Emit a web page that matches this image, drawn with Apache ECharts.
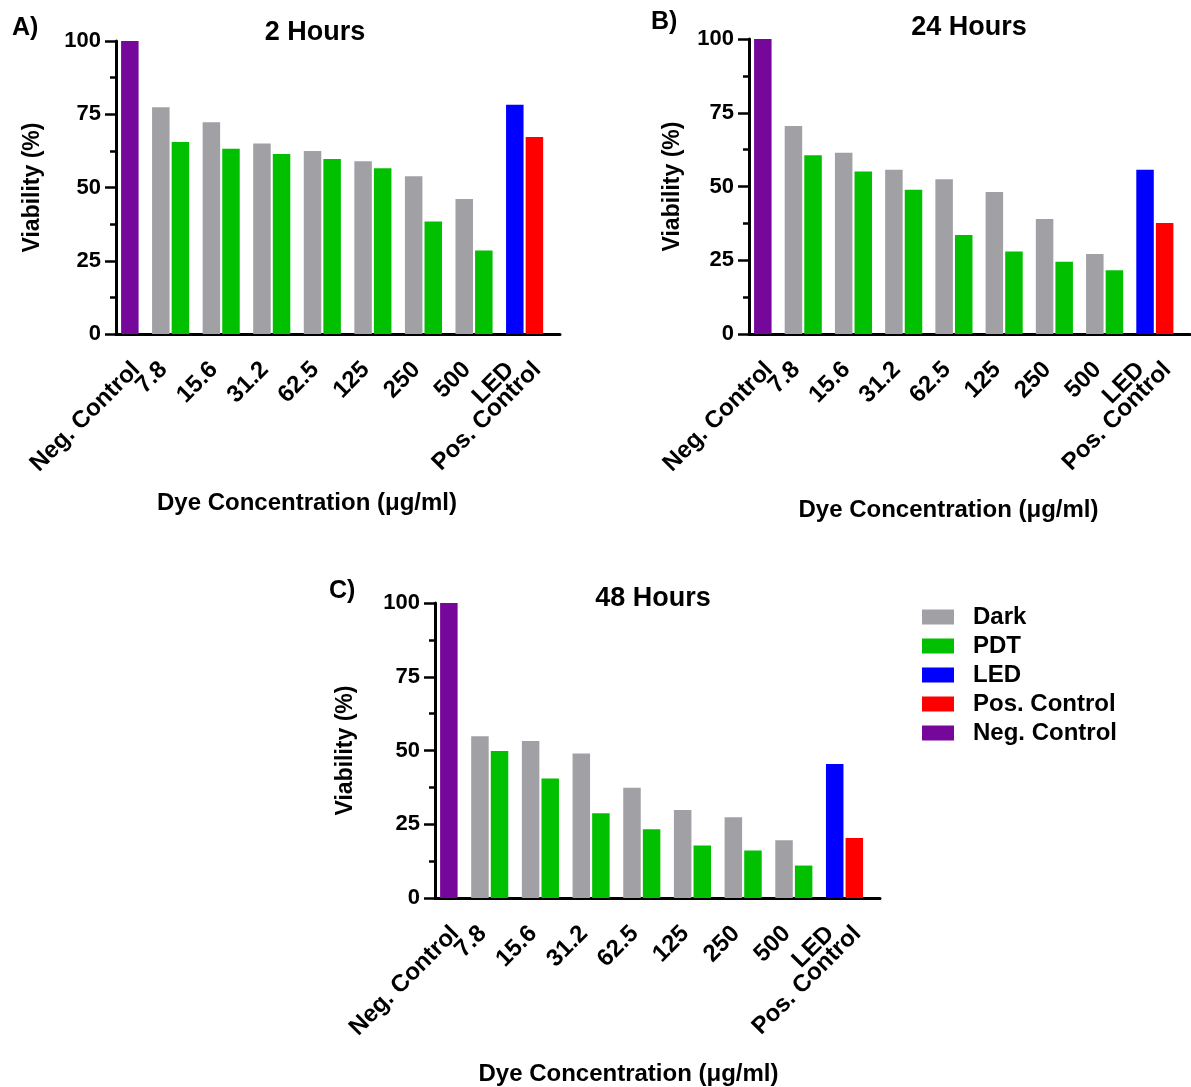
<!DOCTYPE html>
<html>
<head>
<meta charset="utf-8">
<title>Viability</title>
<script src="https://cdn.jsdelivr.net/npm/echarts@6/dist/echarts.min.js"></script>
<style>
  html, body { margin: 0; padding: 0; background: #fff; }
  #chart { width: 1191px; height: 1087px; }
</style>
</head>
<body>
<div id="chart"></div>
<script>
// x labels: single bars first/last, pairs in the middle
const xLabels = ['Neg. Control', '7.8', '15.6', '31.2', '62.5', '125', '250', '500', 'LED', 'Pos. Control'];
const panelTitles = ['2 Hours', '24 Hours', '48 Hours'];
const panelLetters = ['A)', 'B)', 'C)'];

// Dark / PDT values, one row per time point (7.8 .. 500 ug/ml)
const dark = [
  [77.4, 72.3, 65.0, 62.5, 59.0, 53.8, 46.1],
  [70.5, 61.4, 55.7, 52.5, 48.1, 39.0, 27.1],
  [54.8, 53.2, 49.0, 37.4, 29.8, 27.4, 19.6]
];
const pdt = [
  [65.5, 63.2, 61.4, 59.7, 56.6, 38.4, 28.5],
  [60.6, 55.1, 48.9, 33.6, 28.0, 24.5, 21.6],
  [49.8, 40.5, 28.7, 23.3, 17.8, 16.1, 11.0]
];
const led = [78.2, 55.7, 45.4];
const posControl = [67.2, 37.6, 20.3];
const negControl = [100, 100, 100];

const font = "'Liberation Sans', Arial, sans-serif";
const colors = {
  dark: '#a1a1a5',
  pdt: '#00c000',
  led: '#0000ff',
  pos: '#ff0000',
  neg: '#75089a'
};

// panel boxes (plot area) in px
const panels = [
  { left: 116, top: 41, width: 444, height: 293, yGap: 72, xShift: 62, xGap: 157 },
  { left: 749, top: 39, width: 441, height: 295, yGap: 65, xShift: 42, xGap: 164 },
  { left: 435, top: 603, width: 445, height: 295, yGap: 78, xShift: 58, xGap: 164 }
];

const barW = 17.5;
const xMin = -0.08, xMax = 8.7;
// where each rotated label is anchored on the x scale (group units)
const labelPos = [0.32, 0.86, 1.86, 2.86, 3.86, 4.86, 5.86, 6.86, 7.72, 8.25];
// labels alternate between two axes so echarts does not drop overlapping neighbours
const evenPos = labelPos.filter((v, i) => i % 2 === 0);
const oddPos = labelPos.filter((v, i) => i % 2 === 1);

const labelName = function (v) {
  let best = 0;
  labelPos.forEach((lp, i) => { if (Math.abs(lp - v) < Math.abs(labelPos[best] - v)) best = i; });
  return xLabels[best];
};

const xLabelStyle = (values) => ({
  customValues: values,
  rotate: 45,
  margin: 32,
  fontFamily: font,
  fontWeight: 'bold',
  fontSize: 24,
  color: '#000',
  formatter: labelName
});

const grids = [], xAxes = [], overlayAxes = [], yAxes = [], series = [];

panels.forEach((p, k) => {
  grids.push({ left: p.left, top: p.top, width: p.width, height: p.height });

  xAxes.push({
    type: 'value',
    gridIndex: k,
    position: 'bottom',
    min: xMin,
    max: xMax,
    name: 'Dye Concentration (\u03bcg/ml)',
    nameLocation: 'middle',
    nameGap: p.xGap,
    nameTextStyle: { fontFamily: font, fontWeight: 'bold', fontSize: 24, color: '#000', padding: [0, p.xShift, 0, 0] },
    axisLine: { onZero: false, lineStyle: { color: '#000', width: 3 } },
    axisTick: { show: false },
    splitLine: { show: false },
    axisLabel: xLabelStyle(evenPos)
  });

  overlayAxes.push({
    type: 'value',
    gridIndex: k,
    position: 'bottom',
    min: xMin,
    max: xMax,
    axisLine: { show: false, onZero: false },
    axisTick: { show: false },
    splitLine: { show: false },
    axisLabel: xLabelStyle(oddPos)
  });

  yAxes.push({
    type: 'value',
    gridIndex: k,
    min: 0,
    max: 100,
    interval: 25,
    name: 'Viability (%)',
    nameLocation: 'middle',
    nameGap: p.yGap,
    nameTextStyle: { fontFamily: font, fontWeight: 'bold', fontSize: 23, color: '#000' },
    axisLine: { show: true, onZero: false, lineStyle: { color: '#000', width: 3 } },
    axisTick: { show: true, length: 11, lineStyle: { color: '#000', width: 2.5 } },
    minorTick: { show: true, splitNumber: 2, length: 6, lineStyle: { color: '#000', width: 2.5 } },
    splitLine: { show: false },
    axisLabel: { margin: 15, fontFamily: font, fontWeight: 'bold', fontSize: 22, color: '#000' }
  });

  const pairData = (arr) => [null].concat(arr, [null]).map((v, i) => [i, v]);

  const common = { type: 'bar', xAxisIndex: k, yAxisIndex: k, barWidth: barW, barGap: '12%' };
  series.push(
    Object.assign({ name: 'Dark', stack: 'L' + k, itemStyle: { color: colors.dark }, data: pairData(dark[k]) }, common),
    Object.assign({ name: 'PDT', stack: 'R' + k, itemStyle: { color: colors.pdt }, data: pairData(pdt[k]) }, common),
    Object.assign({ name: 'LED', stack: 'L' + k, itemStyle: { color: colors.led }, data: [[8, led[k]]] }, common),
    Object.assign({ name: 'Pos. Control', stack: 'R' + k, itemStyle: { color: colors.pos }, data: [[8, posControl[k]]] }, common),
    Object.assign({ name: 'Neg. Control', stack: 'R' + k, itemStyle: { color: colors.neg }, data: [[0, negControl[k]]] }, common)
  );
});

const titleStyle = (size) => ({ fontFamily: font, fontWeight: 'bold', fontSize: size, color: '#000' });

const option = {
  animation: false,
  backgroundColor: '#fff',
  title: [
    { text: panelLetters[0], left: 12, top: 16, padding: 0, textStyle: titleStyle(25) },
    { text: panelLetters[1], left: 651, top: 10, padding: 0, textStyle: titleStyle(25) },
    { text: panelLetters[2], left: 329, top: 579, padding: 0, textStyle: titleStyle(25) },
    { text: panelTitles[0], left: 315, textAlign: 'center', top: 19, padding: 0, textStyle: titleStyle(27) },
    { text: panelTitles[1], left: 969, textAlign: 'center', top: 14, padding: 0, textStyle: titleStyle(27) },
    { text: panelTitles[2], left: 653, textAlign: 'center', top: 585, padding: 0, textStyle: titleStyle(27) }
  ],
  legend: {
    data: ['Dark', 'PDT', 'LED', 'Pos. Control', 'Neg. Control'],
    orient: 'vertical',
    left: 922,
    top: 605,
    padding: 0,
    icon: 'rect',
    itemWidth: 32,
    itemHeight: 15,
    itemGap: 5,
    selectedMode: false,
    textStyle: { fontFamily: font, fontWeight: 'bold', fontSize: 24, lineHeight: 22, color: '#000', padding: [0, 0, 0, 14] }
  },
  grid: grids,
  xAxis: xAxes.concat(overlayAxes),
  yAxis: yAxes,
  series: series
};

const myChart = echarts.init(document.getElementById('chart'));
myChart.setOption(option);
</script>
</body>
</html>
